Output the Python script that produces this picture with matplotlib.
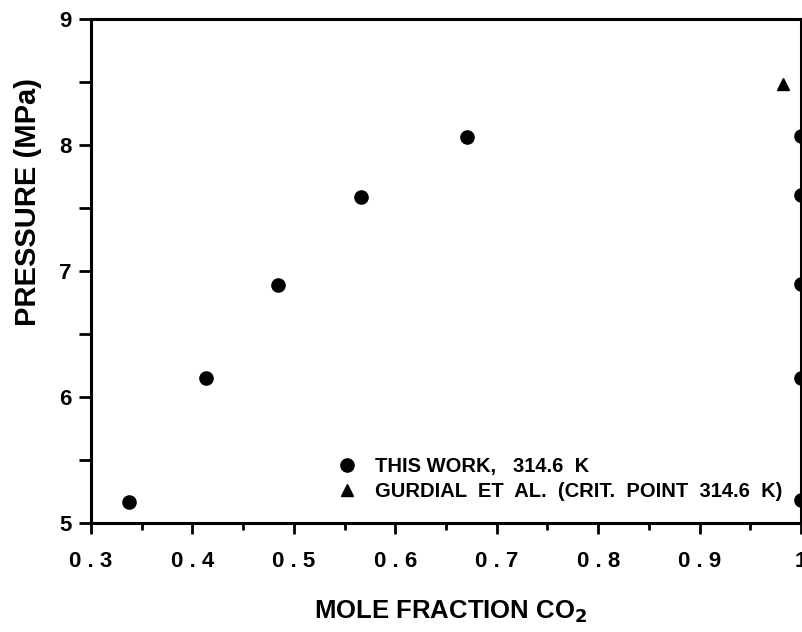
import matplotlib.pyplot as plt
from matplotlib.ticker import MultipleLocator, FuncFormatter

# Data
x_this = [0.337, 0.413, 0.484, 0.566, 0.671, 1.0, 1.0, 1.0, 1.0, 1.0]
p_this = [5.17, 6.15, 6.89, 7.59, 8.06, 8.07, 7.60, 6.90, 6.15, 5.18]
x_gurdial = [0.982]
p_gurdial = [8.48]

FONT = ['Liberation Sans', 'DejaVu Sans']
plt.rcParams['font.family'] = FONT
plt.rcParams['font.weight'] = 'bold'

fig = plt.figure(figsize=(8.03, 6.32), dpi=100)
ax = fig.add_axes([0.1133, 0.1725, 0.8842, 0.7975])

ax.plot(x_this, p_this, 'o', color='black', markersize=9.5,
        label='THIS WORK,   314.6  K')
ax.plot(x_gurdial, p_gurdial, '^', color='black', markersize=8,
        label='GURDIAL  ET  AL.  (CRIT.  POINT  314.6  K)')

ax.set_xlim(0.3, 1.0)
ax.set_ylim(5, 9)
ax.xaxis.set_major_locator(MultipleLocator(0.1))
ax.xaxis.set_minor_locator(MultipleLocator(0.05))
ax.yaxis.set_major_locator(MultipleLocator(1))
ax.yaxis.set_minor_locator(MultipleLocator(0.5))
ax.xaxis.set_major_formatter(FuncFormatter(
    lambda v, p: '1' if abs(v - 1) < 1e-9 else ' . '.join(f'{v:.1f}'.split('.'))))

for s in ax.spines.values():
    s.set_linewidth(2.2)
ax.tick_params(which='major', direction='out', length=8, width=2,
               labelsize=16, pad=12)
ax.tick_params(which='minor', direction='out', length=5, width=2)
ax.tick_params(axis='y', which='major', length=9, pad=5)
ax.tick_params(axis='y', which='minor', length=9)
for lab in ax.get_xticklabels() + ax.get_yticklabels():
    lab.set_fontweight('bold')

ax.set_xlabel('MOLE FRACTION CO$_\\mathbf{2}$', fontsize=18.5, fontweight='bold')
ax.set_ylabel('PRESSURE (MPa)', fontsize=21, fontweight='bold')
ax.xaxis.set_label_coords(0.506, -0.15)
ax.yaxis.set_label_coords(-0.069, 0.637)

ax.legend(loc='lower right', bbox_to_anchor=(1.0, 0.007), frameon=False,
          handletextpad=0.9, labelspacing=0.3, handlelength=1.0,
          prop={'family': FONT, 'weight': 'bold', 'size': 14.5})

fig.savefig('out.png', dpi=100)
